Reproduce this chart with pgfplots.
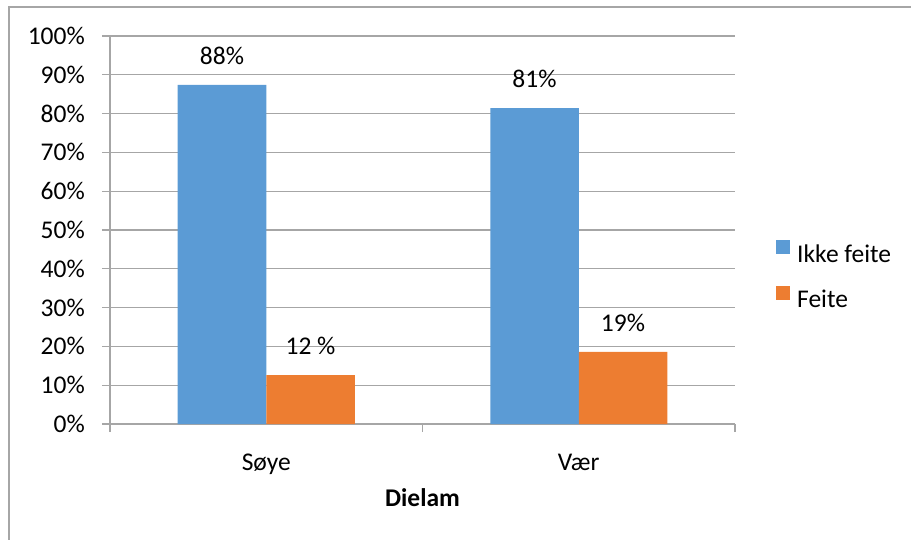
\documentclass[border=0pt]{standalone}
\usepackage{fontspec}
\setmainfont{Carlito}
\usepackage{pgfplots}
\pgfplotsset{compat=1.18}
\definecolor{cblue}{HTML}{5B9BD5}
\definecolor{corange}{HTML}{ED7D31}
\definecolor{gridgray}{HTML}{A6A6A6}
\begin{document}
\fontsize{25.5bp}{30bp}\selectfont
\begin{tikzpicture}
\useasboundingbox (-110bp,-116bp) rectangle (801bp,424bp);
\begin{axis}[
  at={(0,0)}, anchor=south west,
  scale only axis, width=625bp, height=388bp,
  xmin=-0.5, xmax=1.5, ymin=0, ymax=100,
  ybar=0pt, bar width=88.5bp,
  axis x line*=bottom, axis y line*=left,
  axis line style={gridgray, line width=1.2bp},
  ymajorgrids, grid style={gridgray, line width=1.2bp},
  ytick={0,10,...,100},
  yticklabel={\pgfmathprintnumber{\tick}\%},
  /pgf/number format/assume math mode=true,
  tick align=outside, major tick length=8bp,
  tick style={gridgray, line width=1.2bp},
  xtick={0,1}, xticklabels={Søye,Vær},
  xtick style={draw=none},
  extra x ticks={-0.5,0.5,1.5}, extra x tick labels={},
  extra x tick style={xtick style={draw=gridgray}, grid=none},
  yticklabel style={anchor=east, inner sep=0pt, xshift=-17bp},
  xticklabel style={anchor=base, inner sep=0pt, yshift=-38bp},
  xlabel={\textbf{Dielam}},
  xlabel style={at={(axis description cs:0.5,0)}, anchor=base, yshift=-82bp},
  nodes near coords, point meta=explicit symbolic,
  nodes near coords style={anchor=south, inner sep=0pt, yshift=20bp, text=black},
  legend style={at={(axis description cs:1.0656,0.379)}, anchor=west, draw=none, fill=none,
    inner sep=0pt, row sep=18bp, column sep=0pt,
    /tikz/every odd column/.append style={column sep=5bp},
    cells={anchor=west}},
]
\addplot[fill=cblue, draw=none,
  legend image code/.code={\fill[cblue] (0bp,1bp) rectangle (14bp,15bp);}]
  coordinates {(0,87.4) [88\%] (1,81.4) [81\%]};
\addplot[fill=corange, draw=none,
  legend image code/.code={\fill[corange] (0bp,1bp) rectangle (14bp,15bp);}]
  coordinates {(0,12.6) [12 \%] (1,18.6) [19\%]};
\legend{Ikke feite, Feite}
\end{axis}
\draw[gridgray, line width=1.2bp] (-101bp,-116bp) -- (-101bp,417bp) -- (801bp,417bp);
\end{tikzpicture}
\end{document}
